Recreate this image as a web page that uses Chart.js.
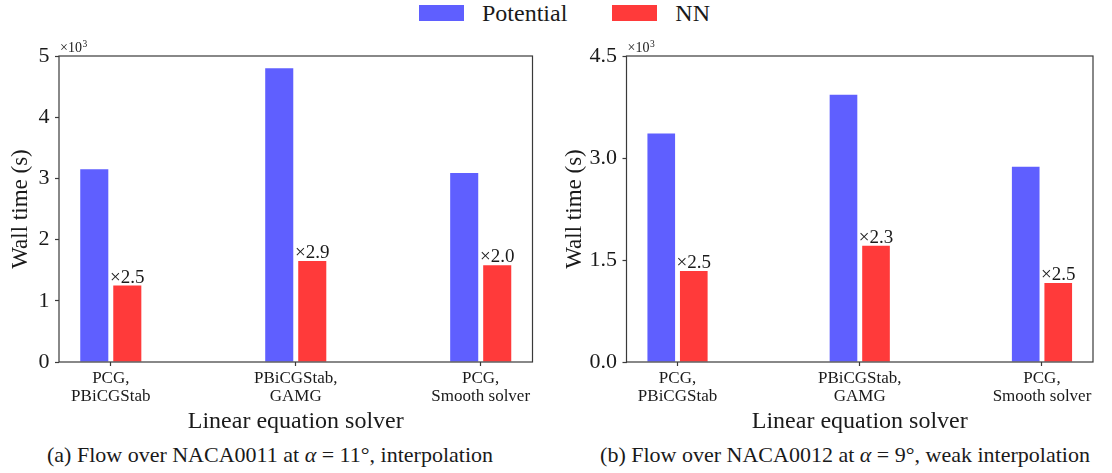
<!DOCTYPE html>
<html>
<head>
<meta charset="utf-8">
<script src="https://cdn.jsdelivr.net/npm/chart.js@4.4.1/dist/chart.umd.min.js"></script>
<style>
  body { margin: 0; background: #fff; }
  #page { position: relative; width: 1112px; height: 473px; color: #1a1a1a; }
  canvas { position: absolute; top: 30px; }
  #chartA { left: 0; }
  #chartB { left: 545px; }
  #legend { position: absolute; left: 419px; top: 0; height: 26px; display: flex; align-items: center; font-size: 24px; line-height: 26px; }
  .legend-item { display: flex; align-items: center; margin-right: 45px; }
  .swatch { width: 45px; height: 16px; margin-right: 18px; }
  .caption { position: absolute; top: 444px; font-size: 22px; line-height: 22px; white-space: nowrap; transform: translateX(-50%); }
</style>
</head>
<body>
<div id="page">
  <div id="legend"></div>
  <canvas id="chartA" width="545" height="410"></canvas>
  <canvas id="chartB" width="567" height="410"></canvas>
  <div class="caption" style="left:270px">(a) Flow over NACA0011 at <i>α</i> = 11°, interpolation</div>
  <div class="caption" style="left:845px">(b) Flow over NACA0012 at <i>α</i> = 9°, weak interpolation</div>
</div>
<script>
// solver combinations on the x axis (two-line labels)
const solvers = [['PCG,', 'PBiCGStab'], ['PBiCGStab,', 'GAMG'], ['PCG,', 'Smooth solver']];
const seriesNames = ['Potential', 'NN'];
const seriesColors = ['#5F5FFF', '#FF3A3A'];

// wall time, in units of 10^3 s
const potentialA = [3.15, 4.80, 3.09];
const nnA = [1.25, 1.65, 1.58];
const potentialB = [3.36, 3.93, 2.87];
const nnB = [1.34, 1.71, 1.16];

const yTicksA = [0, 1, 2, 3, 4, 5];
const yTicksB = [0, 1.5, 3.0, 4.5];

// first serif face that is really installed
function pickSerif(names) {
  const ctx = document.createElement('canvas').getContext('2d');
  const probe = 'Wall time PBiCGStab 0123456789 mmmiii';
  const width = f => { ctx.font = '40px ' + f; return ctx.measureText(probe).width; };
  for (const n of names) {
    if (width(`"${n}", monospace`) !== width('monospace') &&
        width(`"${n}", sans-serif`) !== width('sans-serif')) return `"${n}", serif`;
  }
  return 'serif';
}
const FONT = pickSerif(['Liberation Serif', 'Times New Roman', 'Tinos', 'Noto Serif', 'DejaVu Serif', 'FreeSerif']);
const INK = '#1a1a1a';
const FRAME = '#3a3a3a';

document.getElementById('page').style.fontFamily = FONT;
Chart.defaults.font.family = FONT;
Chart.defaults.color = INK;

// shared legend above both panels
const legendEl = document.getElementById('legend');
seriesNames.forEach((name, k) => {
  const item = document.createElement('span');
  item.className = 'legend-item';
  const sw = document.createElement('span');
  sw.className = 'swatch';
  sw.style.background = seriesColors[k];
  item.appendChild(sw);
  item.appendChild(document.createTextNode(name));
  legendEl.appendChild(item);
});

// box around the plot area plus the x10^3 multiplier
const axisFrame = {
  id: 'axisFrame',
  afterDraw(chart) {
    const { ctx } = chart;
    const { left, top, right, bottom } = chart.chartArea;
    ctx.save();
    ctx.strokeStyle = FRAME;
    ctx.lineWidth = 1.2;
    ctx.strokeRect(left, top, right - left, bottom - top);
    ctx.fillStyle = INK;
    ctx.textAlign = 'left';
    ctx.textBaseline = 'alphabetic';
    ctx.font = '14px ' + FONT;
    ctx.fillText('×10', left + 1, top - 3.7);
    const w = ctx.measureText('×10').width;
    ctx.font = '9.5px ' + FONT;
    ctx.fillText('3', left + 1.5 + w, top - 8.7);
    ctx.restore();
  }
};

// speed-up factor written above each NN bar
const speedupLabels = {
  id: 'speedupLabels',
  afterDatasetsDraw(chart) {
    const { ctx } = chart;
    const pot = chart.data.datasets[0].data;
    const nn = chart.data.datasets[1].data;
    ctx.save();
    ctx.font = '19px ' + FONT;
    ctx.fillStyle = INK;
    ctx.textAlign = 'center';
    ctx.textBaseline = 'alphabetic';
    chart.getDatasetMeta(1).data.forEach((bar, i) => {
      const ratio = pot[i].y / nn[i].y;
      ctx.fillText('×' + ratio.toFixed(1), bar.x, bar.y - 3);
    });
    ctx.restore();
  }
};

function buildPanel(canvasId, potential, nn, yTicks, box) {
  const step = yTicks[1] - yTicks[0];
  const decimals = Number.isInteger(step) ? 0 : 1;
  return new Chart(document.getElementById(canvasId), {
    type: 'bar',
    data: {
      datasets: [potential, nn].map((vals, k) => ({
        label: seriesNames[k],
        data: vals.map((v, i) => ({ x: i, y: v })),
        backgroundColor: seriesColors[k],
        categoryPercentage: 0.357,
        barPercentage: 0.85
      }))
    },
    options: {
      responsive: false,
      animation: false,
      devicePixelRatio: 1,
      layout: { padding: { top: 26, right: box.padRight, bottom: 0, left: 0 } },
      plugins: { legend: { display: false }, tooltip: { enabled: false } },
      scales: {
        x: {
          type: 'linear',
          offset: false,
          bounds: 'data',
          min: -0.28,
          max: solvers.length - 1 + 0.28,
          afterBuildTicks: s => { s.ticks = solvers.map((_, i) => ({ value: i })); },
          afterFit: s => { s.height = 78; },
          ticks: {
            callback: v => solvers[v],
            font: { size: 17, lineHeight: 1.06 },
            padding: 3.8,
            maxRotation: 0,
            autoSkip: false
          },
          grid: { offset: false, drawOnChartArea: false, tickLength: 4, tickColor: FRAME, tickWidth: 1.2 },
          border: { display: false },
          title: {
            display: true,
            text: 'Linear equation solver',
            font: { size: 24 },
            padding: { top: 0, bottom: 3.9 }
          }
        },
        y: {
          min: yTicks[0],
          max: yTicks[yTicks.length - 1],
          afterBuildTicks: s => { s.ticks = yTicks.map(v => ({ value: v })); },
          afterFit: s => { s.width = box.yWidth; },
          ticks: {
            callback: v => Number(v).toFixed(decimals),
            font: { size: 22 },
            padding: 5.5
          },
          grid: { drawOnChartArea: false, tickLength: 4, tickColor: FRAME, tickWidth: 1.2 },
          border: { display: false },
          title: {
            display: true,
            text: 'Wall time (s)',
            font: { size: 23 },
            padding: { top: box.titlePad, bottom: 0 }
          }
        }
      }
    },
    plugins: [axisFrame, speedupLabels]
  });
}

buildPanel('chartA', potentialA, nnA, yTicksA, { yWidth: 59, padRight: 12.5, titlePad: 7.2 });
buildPanel('chartB', potentialB, nnB, yTicksB, { yWidth: 81.5, padRight: 19, titlePad: 16.6 });
</script>
</body>
</html>
